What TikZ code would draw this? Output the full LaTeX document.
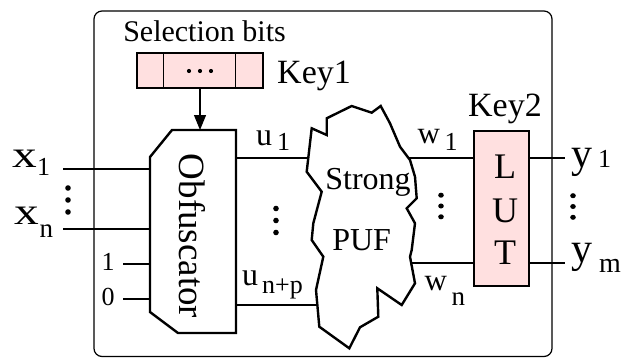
\documentclass[tikz,border=0pt]{standalone}
\usepackage{graphicx}
\usepackage{fontspec}
\setmainfont{Liberation Serif}
\usetikzlibrary{arrows.meta}
\definecolor{keypink}{RGB}{255,224,224}
\newcommand{\fs}[1]{\fontsize{#1}{#1}\selectfont}
\begin{document}
\begin{tikzpicture}[x=1pt,y=-1pt,
  wire/.style={line width=1.2pt},
  outline/.style={line width=2.4pt, line join=miter},
  txt/.style={inner sep=0pt, anchor=base west},
  lbl/.style={inner sep=0pt},
  vdotsmark/.pic={\foreach \dy in {-12,0,12} \fill (0,\dy) circle (2.8);},
  hdotsmark/.pic={\foreach \dx in {-11,0,11} \fill (\dx,0) circle (2.1);}]
\useasboundingbox (0,0) rectangle (624,359);
% outer frame
\draw[wire, rounded corners=8pt] (94,11) rectangle (552,356.5);
% key1 register
\node[lbl, font=\fs{30}] (selbits) at (204.5,31) {Selection bits};
\node[draw, wire, fill=keypink, minimum width=126pt, minimum height=35pt, inner sep=0pt] (key) at (200,70.5) {};
\draw[wire] (key.north west) ++(27,0) -- ++(0,35);
\draw[wire] (key.north east) ++(-28,0) -- ++(0,35);
\pic at (200,71) {hdotsmark};
\node[txt, font=\fs{34}] (key1) at (277,83) {Key1};
% obfuscator
\draw[outline, fill=white] (172,130) -- (236,130) -- (236,333) -- (178,333) -- (150,312) -- (150,157) -- cycle;
\coordinate (obftop) at (200,130);
\node[lbl, rotate=-90, font=\fs{37}] (obf) at (192,236) {Obfuscator};
\draw[wire, -{Triangle[length=15pt,width=12pt]}] (key.south) -- (obftop);
% inputs
\coordinate (x1a) at (63,169); \coordinate (x1b) at (150,169);
\coordinate (xna) at (63,229); \coordinate (xnb) at (150,229);
\coordinate (ina) at (123,264); \coordinate (inb) at (150,264);
\coordinate (iza) at (123,299); \coordinate (izb) at (150,299);
\draw[wire] (x1a) -- (x1b);
\draw[wire] (xna) -- (xnb);
\draw[wire] (ina) -- (inb);
\draw[wire] (iza) -- (izb);
\node[txt, font=\fs{38}] (x1m) at (12,167) {\scalebox{1.3}[1]{x}};
\node[txt, font=\fs{26}] (x1s) at (37,175) {1};
\node[txt, font=\fs{38}] (xnm) at (14,224) {\scalebox{1.3}[1]{x}};
\node[txt, font=\fs{27}] (xns) at (39.5,237) {n};
\pic at (68,200) {vdotsmark};
\node[lbl, font=\fs{26}] (one) at (108,262) {1};
\node[lbl, font=\fs{26}] (zero) at (108,297) {0};
% PUF cloud
\draw[outline, line join=miter, fill=white] (311.7,128.3) -- (326.7,135) -- (326.7,118.3) -- (351.7,106) -- (371.7,112.7) -- (380.7,106) -- (390,123.3) -- (400,146.7) -- (410,160) -- (415,176.7) -- (416.7,198.3) -- (406.7,208.3) -- (415,223.3) -- (411.7,250) -- (410,256.7) -- (415,283.3) -- (401.7,305) -- (377.3,288.3) -- (378.3,316.7) -- (360,327.3) -- (349.3,348.3) -- (319.3,326.7) -- (316,290) -- (323.3,256.7) -- (311.7,240) -- (313.3,223.3) -- (321.7,191.7) -- (306.7,171.7) -- cycle;
\node[lbl, font=\fs{32}] (strong) at (368,182) {Strong};
\node[lbl, font=\fs{32}] (puf) at (361.7,240) {PUF};
% u wires
\coordinate (u1a) at (236,158); \coordinate (u1b) at (308,158);
\coordinate (upa) at (236,305); \coordinate (upb) at (317,305);
\draw[wire] (u1a) -- (u1b);
\draw[wire] (upa) -- (upb);
\node[txt, font=\fs{32}] (u1m) at (256,145) {u};
\node[txt, font=\fs{26}] (u1s) at (277,150) {1};
\node[txt, font=\fs{32}] (upm) at (242,285) {u};
\node[txt, font=\fs{26}] (ups) at (262,293) {n+p};
\pic at (276,220.5) {vdotsmark};
% LUT
\node[draw, outline, fill=keypink, minimum width=55pt, minimum height=155pt, inner sep=0pt] (lut) at (501.5,208.5) {};
\node[lbl, font=\fs{36}] (lutL) at (505,167) {L};
\node[lbl, font=\fs{36}] (lutU) at (505,211) {U};
\node[lbl, font=\fs{36}] (lutT) at (505,253) {T};
\node[lbl, anchor=base, font=\fs{34}] (key2) at (505,116) {Key2};
% w wires
\coordinate (w1a) at (408.5,158); \coordinate (wna) at (411,263);
\draw[wire] (w1a) -- (lut.west |- w1a);
\draw[wire] (wna) -- (lut.west |- wna);
\node[txt, font=\fs{31}] (w1m) at (417.5,143) {w};
\node[txt, font=\fs{26}] (w1s) at (444.5,150) {1};
\node[txt, font=\fs{31}] (wnm) at (424.5,290) {w};
\node[txt, font=\fs{27}] (wns) at (451.5,305) {n};
\pic[yscale=0.9] at (441,206) {vdotsmark};
% y outputs
\coordinate (y1b) at (565,158); \coordinate (ymb) at (565,263);
\draw[wire] (lut.east |- y1b) -- (y1b);
\draw[wire] (lut.east |- ymb) -- (ymb);
\node[txt, font=\fs{42}] (y1m) at (571,167) {y};
\node[txt, font=\fs{26}] (y1s) at (598,167) {1};
\node[txt, font=\fs{42}] (ymm) at (571,262) {y};
\node[txt, font=\fs{28}] (yms) at (599,272) {m};
\pic[yscale=0.9] at (573,206.5) {vdotsmark};
\end{tikzpicture}
\end{document}
